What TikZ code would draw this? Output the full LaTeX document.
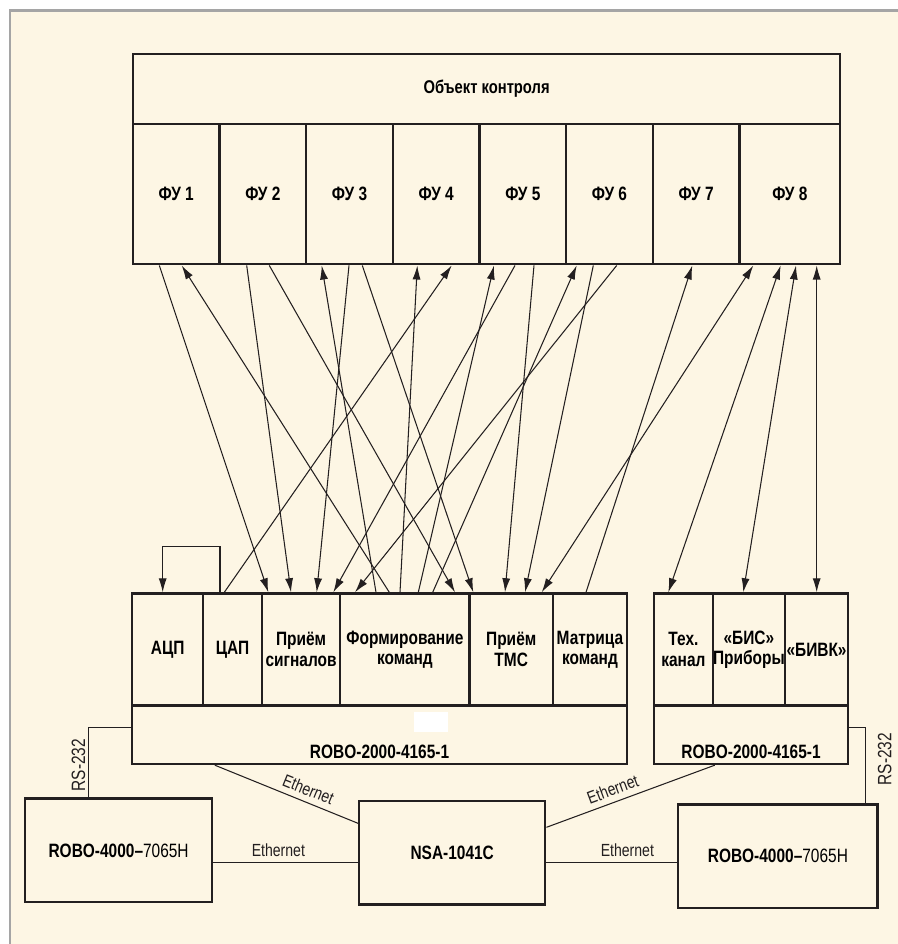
\documentclass[tikz,border=0pt]{standalone}
\usepackage{fontspec}
\setmainfont{Liberation Sans}[FakeStretch=0.8]
\usetikzlibrary{arrows.meta}
\definecolor{paper}{RGB}{253,246,228}
\definecolor{frame}{RGB}{165,165,165}
\definecolor{ink}{RGB}{35,31,32}
\def\pxu{0.02cm}
\tikzset{
  blk/.style={draw=ink, line width=1.4pt, inner sep=0pt, anchor=north west, align=center,
    font=\bfseries\fontsize{11}{11.6}\selectfont},
  link/.style={draw=ink, line width=0.6pt},
  lbl/.style={font=\fontsize{10}{11}\selectfont, text=ink},
  rsl/.style={font=\fontsize{11}{12}\selectfont, text=ink, rotate=90, inner sep=0pt},
}
\begin{document}
\begin{tikzpicture}[x=0.02cm,y=-0.02cm,>={Latex[length=8pt,width=4.6pt]}]
	\useasboundingbox (0,0) rectangle (898,944);
	\fill[white] (0,0) rectangle (898,944);
	\fill[paper] (10,10.5) rectangle (898,944);
	\draw[frame, line width=1.4pt] (10,944) -- (10,10.5) -- (898,10.5);
	% object under test
	\node[blk, minimum width=707.3*\pxu, minimum height=70.3*\pxu,
	  font=\bfseries\fontsize{10.5}{12}\selectfont] (obj) at (131.7,52.7) {Объект контроля};
	\foreach \i/\x in {1/131.7,2/218.35,3/305,4/391.65,5/478.3,6/564.95,7/651.6}
		\node[blk, minimum width=86.65*\pxu, minimum height=140*\pxu] (fu\i) at (\x,123) {ФУ \i};
	\node[blk, minimum width=100.75*\pxu, minimum height=140*\pxu] (fu8) at (738.25,123) {ФУ 8};
	% left rack
	\node[blk, minimum width=71*\pxu, minimum height=112*\pxu] (adc) at (131,592.3) {АЦП};
	\node[blk, minimum width=58.7*\pxu, minimum height=112*\pxu] (dac) at (202,592.3) {ЦАП};
	\node[blk, minimum width=78.3*\pxu, minimum height=112*\pxu] (prs) at (260.7,592.3) {Приём\\сигналов};
	\node[blk, minimum width=129.3*\pxu, minimum height=112*\pxu] (frm) at (339,592.3) {Формирование\\команд};
	\node[blk, minimum width=83.4*\pxu, minimum height=112*\pxu] (tms) at (468.3,592.3) {Приём\\ТМС};
	\node[blk, minimum width=74*\pxu, minimum height=112*\pxu] (mtr) at (551.7,592.3) {Матрица\\команд};
	\node[blk, minimum width=494.7*\pxu, minimum height=58.4*\pxu,
	  label={[anchor=south, inner sep=3.4pt, font=\bfseries\fontsize{11}{12}\selectfont]south:ROBO-2000-4165-1}]
	  (robo1) at (131,704.3) {};
	\fill[white] (414,711.7) rectangle (447.7,731.7);
	% right rack
	\node[blk, minimum width=59*\pxu, minimum height=112*\pxu] (teh) at (652.7,592.3) {Тех.\\канал};
	\node[blk, minimum width=72*\pxu, minimum height=112*\pxu] (bis) at (711.7,592.3) {«БИС»\\Приборы};
	\node[blk, minimum width=63.3*\pxu, minimum height=112*\pxu] (bivk) at (783.7,592.3) {«БИВК»};
	\node[blk, minimum width=194.3*\pxu, minimum height=58.4*\pxu,
	  label={[anchor=south, inner sep=3.4pt, font=\bfseries\fontsize{11}{12}\selectfont]south:ROBO-2000-4165-1}]
	  (robo2) at (652.7,704.3) {};
	% computers and switch
	\node[blk, minimum width=186.8*\pxu, minimum height=103.7*\pxu] (pc1) at (24,797.3) {ROBO-4000–\mdseries 7065H};
	\node[blk, minimum width=186*\pxu, minimum height=103.3*\pxu] (nsa) at (358,800) {NSA-1041C};
	\node[blk, minimum width=199.3*\pxu, minimum height=103.4*\pxu] (pc2) at (677,803.3) {ROBO-4000–\mdseries 7065H};
	% signal lines
	\foreach \xt/\xb in {159.3/268.3,246.7/291,269.3/455,349/316.7,362.3/473.3,515/333.3,534/505,593.3/525,616.7/355}
		\draw[link,->] (\xt,0 |- fu1.south) -- (\xb,0 |- adc.north);
	\foreach \xt/\xb in {181.7/389.3,321.7/376,417.3/400,451.7/224.3,494/418.3,576.7/432.7,692.3/586}
		\draw[link,<-] (\xt,0 |- fu1.south) -- (\xb,0 |- adc.north);
	\foreach \xt/\xb in {753.3/541.7,780.7/668.3,796/743.3,816.7/816.7}
		\draw[link,<->] (\xt,0 |- fu1.south) -- (\xb,0 |- teh.north);
	\draw[link,->] (220,0 |- dac.north) |- (162.7,546.7) -- (162.7,0 |- adc.north);
	% network
	\draw[link] (pc1.east |- 0,862.7) -- node[pos=0.45, above, lbl] {Ethernet} (nsa.west |- 0,862.7);
	\draw[link] (nsa.east |- 0,862.7) -- node[pos=0.62, above, lbl] {Ethernet} (pc2.west |- 0,862.7);
	\draw[link] (214.8,0 |- robo1.south) -- node[pos=0.62, above, sloped, lbl] {Ethernet} (nsa.west |- 0,823.3);
	\draw[link] (nsa.east |- 0,827.3) -- node[pos=0.42, above, sloped, lbl] {Ethernet} (714.8,0 |- robo2.south);
	\draw[link] (robo1.west |- 0,727.3) -| node[pos=0.77, rsl, anchor=south, outer sep=2pt] {RS-232} (88.8,0 |- pc1.north);
	\draw[link] (robo2.east |- 0,727.3) -| node[pos=0.71, rsl, anchor=north, outer sep=7pt] {RS-232} (865.5,0 |- pc2.north);
\end{tikzpicture}
\end{document}
